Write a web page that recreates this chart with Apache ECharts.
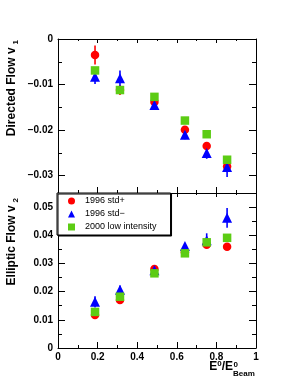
<!DOCTYPE html>
<html><head><meta charset="utf-8">
<script src="https://cdn.jsdelivr.net/npm/echarts@6/dist/echarts.min.js"></script>
<style>html,body{margin:0;padding:0;background:#fff}#c{width:285px;height:388px}</style>
</head><body><div id="c"></div>
<script>
const xVals = [0.187, 0.313, 0.487, 0.641, 0.751, 0.854];
const xTicks = ['0','0.2','0.4','0.6','0.8','1'];
const seriesNames = ['1996 std+', '1996 std\u2212', '2000 low intensity'];
const v1Red = [-0.0035, -0.0112, -0.0138, -0.0199, -0.0235, -0.0280];
const v1RedErr = [0.0021, 0.0011, 0.0008, 0.0008, 0.0009, 0.0012];
const v1Blue = [-0.0083, -0.0086, -0.0145, -0.0210, -0.0250, -0.0281];
const v1BlueErr = [0.0016, 0.0017, 0.0008, 0.0010, 0.0013, 0.0022];
const v1Green = [-0.0069, -0.0112, -0.0127, -0.0179, -0.0209, -0.0265];
const v2Red = [0.0117, 0.0170, 0.0280, 0.0340, 0.0366, 0.0359];
const v2RedErr = [0.0010, 0.0008, 0.0006, 0.0006, 0.0007, 0.0012];
const v2Blue = [0.0164, 0.0207, 0.0276, 0.0362, 0.0382, 0.0462];
const v2BlueErr = [0.0020, 0.0015, 0.0008, 0.0010, 0.0025, 0.0035];
const v2Green = [0.0128, 0.0182, 0.0265, 0.0336, 0.0375, 0.0391];

const RED = '#ff0000', BLUE = '#0000ff', GREEN = '#5ccc14';
const FONT = '"Liberation Sans", Arial, Helvetica, sans-serif';

function pts(ys) { return ys.map((y, i) => [xVals[i], y]); }
function errs(ys, es) { return ys.map((y, i) => [xVals[i], y, es[i]]); }

function errSeries(name, ys, es, color, gi) {
  return {
    type: 'custom', name: name, xAxisIndex: gi * 2, yAxisIndex: gi * 2,
    data: errs(ys, es), z: 2, silent: true,
    encode: { x: 0, y: 1 },
    renderItem: function (params, api) {
      const x = api.value(0), y = api.value(1), e = api.value(2);
      const p1 = api.coord([x, y - e]);
      const p2 = api.coord([x, y + e]);
      return { type: 'line', shape: { x1: p1[0], y1: p1[1], x2: p2[0], y2: p2[1] },
               style: { stroke: color, lineWidth: 1.6 } };
    }
  };
}
function scat(name, ys, color, symbol, gi, z) {
  return { type: 'scatter', name: name, xAxisIndex: gi * 2, yAxisIndex: gi * 2,
    data: pts(ys), symbol: symbol, symbolSize: symbol === 'triangle' ? 10 : 8.5,
    itemStyle: { color: color, opacity: 1 }, z: z, silent: true };
}

const axisLine = { show: true, onZero: false, lineStyle: { color: '#000', width: 1 } };
const labelStyle = { color: '#000', fontSize: 10, fontWeight: 'bold', fontFamily: FONT };

function xAx(gi, pos, showLabel) {
  const top = pos === 'top';
  return { type: 'value', gridIndex: gi, position: pos, min: 0, max: 1, interval: 0.2,
    axisLine: axisLine,
    axisTick: { show: true, inside: true, length: top ? 4 : 6, lineStyle: { color: '#000' } },
    minorTick: { show: true, splitNumber: 2, length: top ? 2 : 3, lineStyle: { color: '#000' } },
    splitLine: { show: false }, minorSplitLine: { show: false },
    axisLabel: Object.assign({ show: showLabel, margin: 4,
      formatter: function (v) { return xTicks[Math.round(v / 0.2)]; } }, labelStyle) };
}
function yAx(gi, pos, showLabel, opts) {
  return Object.assign({ type: 'value', gridIndex: gi, position: pos,
    axisLine: axisLine,
    axisTick: { show: true, inside: true, length: 7, lineStyle: { color: '#000' } },
    minorTick: { show: true, splitNumber: 2, length: 4, lineStyle: { color: '#000' } },
    splitLine: { show: false }, minorSplitLine: { show: false },
    axisLabel: Object.assign({ show: showLabel, margin: 5, showMinLabel: gi === 1, showMaxLabel: gi === 0,
      formatter: function (v) { return v === 0 ? '0' : (v < 0 ? '\u2212' + (-v).toFixed(2) : v.toFixed(2)); } }, labelStyle) }, opts);
}

const chart = echarts.init(document.getElementById('c'), null, { renderer: 'canvas' });
chart.setOption({
  animation: false,
  backgroundColor: '#fff',
  grid: [
    { left: 58, top: 39, width: 198, height: 154 },
    { left: 58, top: 193, width: 198, height: 155 }
  ],
  xAxis: [xAx(0, 'bottom', false), xAx(0, 'top', false), xAx(1, 'bottom', true), xAx(1, 'top', false)],
  yAxis: [
    yAx(0, 'left', true, { min: -0.0338, max: 0, splitNumber: 3 }),
    yAx(0, 'right', false, { min: -0.0338, max: 0, splitNumber: 3 }),
    yAx(1, 'left', true, { min: 0, max: 0.055, interval: 0.01 }),
    yAx(1, 'right', false, { min: 0, max: 0.055, interval: 0.01 })
  ],
  legend: {
    orient: 'vertical', left: 57, top: 193, itemWidth: 7, itemHeight: 7, itemGap: 3,
    padding: [3, 14, 3, 11], borderColor: '#000', borderWidth: 1, backgroundColor: '#fff',
    shadowColor: '#000', shadowOffsetX: 1, shadowOffsetY: 1,
    data: seriesNames, selectedMode: false,
    textStyle: { fontSize: 9, fontFamily: FONT, color: '#000', padding: [0, 0, 0, 5], lineHeight: 10 }
  },
  series: [
    errSeries('eR1', v1Red, v1RedErr, RED, 0),
    scat(seriesNames[0], v1Red, RED, 'circle', 0, 3),
    errSeries('eB1', v1Blue, v1BlueErr, BLUE, 0),
    scat(seriesNames[1], v1Blue, BLUE, 'triangle', 0, 4),
    scat(seriesNames[2], v1Green, GREEN, 'rect', 0, 5),
    errSeries('eR2', v2Red, v2RedErr, RED, 1),
    scat(seriesNames[0], v2Red, RED, 'circle', 1, 3),
    errSeries('eB2', v2Blue, v2BlueErr, BLUE, 1),
    scat(seriesNames[1], v2Blue, BLUE, 'triangle', 1, 4),
    scat(seriesNames[2], v2Green, GREEN, 'rect', 1, 5)
  ],
  graphic: [
    { type: 'text', x: 13, y: 40, rotation: Math.PI / 2, z: 10,
      style: { text: '{m|Directed Flow v}{s|1}', textAlign: 'right', textVerticalAlign: 'middle',
        rich: { m: { fontSize: 12, fontWeight: 'bold', fontFamily: FONT, fill: '#000', lineHeight: 14, verticalAlign: 'top' },
                s: { fontSize: 8, fontWeight: 'bold', fontFamily: FONT, fill: '#000', lineHeight: 14, verticalAlign: 'bottom', padding: [0, 0, 0, 3] } } } },
    { type: 'text', x: 13, y: 198, rotation: Math.PI / 2, z: 10,
      style: { text: '{m|Elliptic Flow v}{s|2}', textAlign: 'right', textVerticalAlign: 'middle',
        rich: { m: { fontSize: 12, fontWeight: 'bold', fontFamily: FONT, fill: '#000', lineHeight: 14, verticalAlign: 'top' },
                s: { fontSize: 8, fontWeight: 'bold', fontFamily: FONT, fill: '#000', lineHeight: 14, verticalAlign: 'bottom', padding: [0, 0, 0, 3] } } } },
    { type: 'text', x: 233, y: 373, z: 10,
      style: { text: '{b|E}{p|0}{b|/E}', textAlign: 'right', textVerticalAlign: 'bottom',
        rich: { b: { fontSize: 12, fontWeight: 'bold', fontFamily: FONT, fill: '#000', lineHeight: 13, verticalAlign: 'bottom' },
                p: { fontSize: 8, fontWeight: 'bold', fontFamily: FONT, fill: '#000', lineHeight: 13, verticalAlign: 'top' } } } },
    { type: 'text', x: 233.5, y: 361, z: 10,
      style: { text: '0', font: 'bold 8px ' + FONT, fill: '#000', textAlign: 'left', textVerticalAlign: 'top' } },
    { type: 'text', x: 233, y: 378, z: 10,
      style: { text: 'Beam', font: 'bold 8px ' + FONT, fill: '#000', textAlign: 'left', textVerticalAlign: 'bottom' } }
  ]
});
</script></body></html>
